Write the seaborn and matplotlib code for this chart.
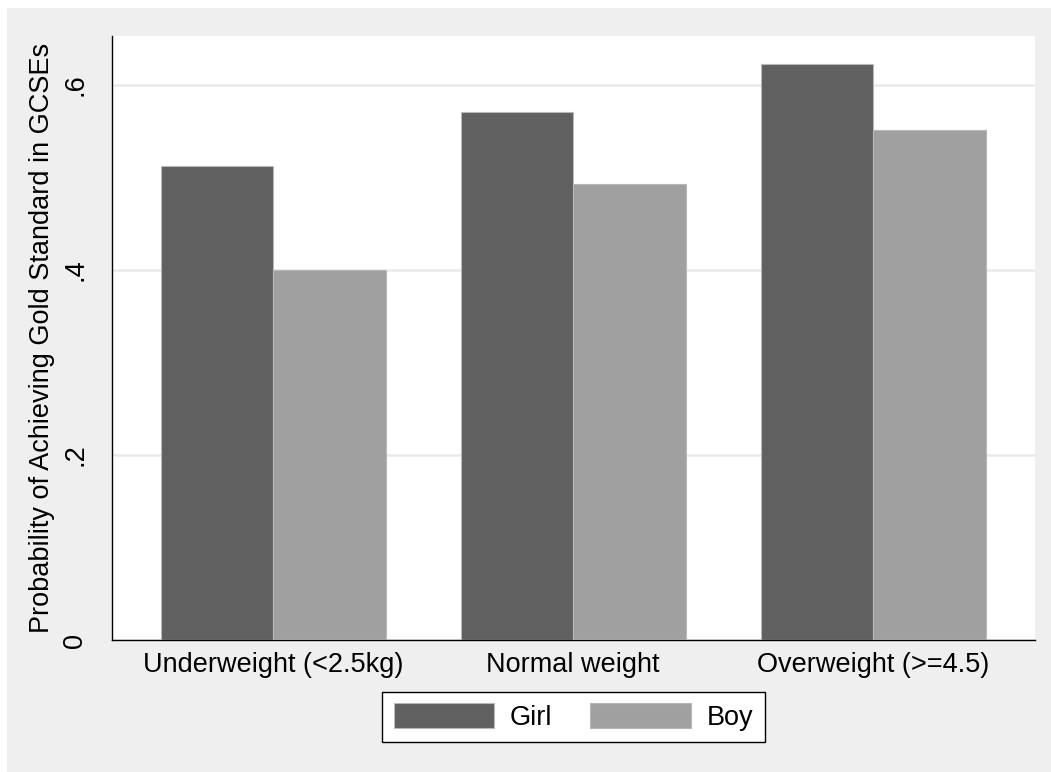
import matplotlib
matplotlib.use('Agg')
import matplotlib.pyplot as plt
import seaborn as sns
import pandas as pd
from matplotlib.patches import Rectangle

# Data
categories = ['Underweight (<2.5kg)', 'Normal weight', 'Overweight (>=4.5)']
girl = [0.512, 0.571, 0.623]
boy = [0.400, 0.493, 0.551]
yticks = [0, 0.2, 0.4, 0.6]
ytick_labels = ['0', '.2', '.4', '.6']

df = pd.DataFrame({
    'weight': categories * 2,
    'prob': girl + boy,
    'sex': ['Girl'] * 3 + ['Boy'] * 3,
})

sns.set_style('white')
plt.rcParams['font.family'] = ['Liberation Sans', 'DejaVu Sans']
plt.rcParams['text.color'] = 'black'
plt.rcParams['xtick.color'] = 'black'
plt.rcParams['ytick.color'] = 'black'
plt.rcParams['axes.labelcolor'] = 'black'
fs = 19.5

fig = plt.figure(figsize=(10.51, 7.72), dpi=100, facecolor='white')
# Stata-like grey outer region (white strip only at top and left)
fig.patches.append(Rectangle((7 / 1051, -0.05), 1.1, 764 / 772 + 0.05,
                             transform=fig.transFigure, facecolor='#EFEFEF',
                             edgecolor='none', zorder=-10))
ax = fig.add_axes([112 / 1051, 132 / 772, 923 / 1051, 604 / 772])
ax.set_facecolor('white')

sns.barplot(data=df, x='weight', y='prob', hue='sex', ax=ax,
            palette=['#606060', '#A0A0A0'], width=0.75, saturation=1,
            edgecolor='#B8B8B8', linewidth=0.8, errorbar=None, zorder=3)

ax.set_ylim(0, 0.653)
ax.set_xlim(-0.537, 2.54)
ax.set_yticks(yticks)
ax.set_yticklabels(ytick_labels, rotation=90, va='center', fontsize=fs)
ax.tick_params(axis='y', length=11, width=1, color='black', pad=6)
ax.tick_params(axis='x', length=0, labelsize=fs, pad=9)
ax.yaxis.grid(True, color='#EAEAEA', linewidth=1.8, zorder=0)
ax.set_axisbelow(True)

for s in ['top', 'right']:
    ax.spines[s].set_visible(False)
for s in ['left', 'bottom']:
    ax.spines[s].set_color('black')
    ax.spines[s].set_linewidth(1)

ax.set_xlabel('')
ax.set_ylabel('Probability of Achieving Gold Standard in GCSEs', fontsize=fs, labelpad=5)

ax.get_legend().remove()
handles = [Rectangle((0, 0), 1, 1, facecolor='#606060', edgecolor='#B8B8B8', linewidth=0.8),
           Rectangle((0, 0), 1, 1, facecolor='#A0A0A0', edgecolor='#B8B8B8', linewidth=0.8)]
leg = fig.legend(handles, ['Girl', 'Boy'], ncol=2, loc='upper center',
                 bbox_to_anchor=(573.5 / 1051, 1 - 692 / 772), fontsize=fs,
                 frameon=True, fancybox=False, framealpha=1, handlelength=3.7,
                 handleheight=1.0, handletextpad=0.6, columnspacing=1.4,
                 borderpad=0.42, borderaxespad=0)
leg.get_frame().set_edgecolor('black')
leg.get_frame().set_linewidth(1)
leg.get_frame().set_facecolor('white')

fig.savefig('out.png', dpi=100, facecolor='white')
